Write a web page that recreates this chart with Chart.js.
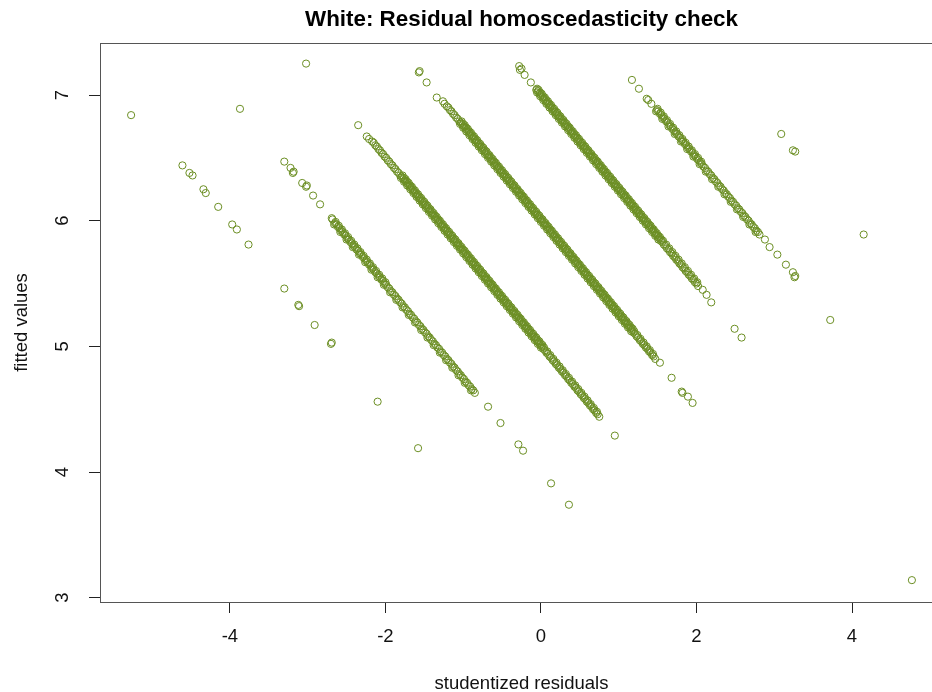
<!DOCTYPE html>
<html>
<head>
<meta charset="utf-8">
<script src="https://cdn.jsdelivr.net/npm/chart.js@4.4.1/dist/chart.umd.min.js"></script>
<style>
  html, body { margin: 0; padding: 0; background: #fff; overflow: hidden; }
  #wrap { width: 960px; height: 692px; }
</style>
</head>
<body>
<div id="wrap"><canvas id="c" width="960" height="692"></canvas></div>
<script>
// Axis ticks
const xTicks = [-4, -2, 0, 2, 4];
const yTicks = [3, 4, 5, 6, 7];

// [studentized residual, fitted value] pairs, grouped by stripe
const stripe1 = [
  [-2.65,5.98],[-2.61,5.95],[-2.57,5.92],[-2.53,5.89],[-2.49,5.86],[-2.45,5.83],[-2.41,5.80],[-2.37,5.77],[-2.33,5.74],[-2.29,5.71],
  [-2.25,5.68],[-2.21,5.65],[-2.17,5.62],[-2.13,5.59],[-2.09,5.56],[-2.05,5.53],[-2.01,5.50],[-1.97,5.47],[-1.93,5.44],[-1.89,5.41],
  [-1.85,5.38],[-1.81,5.35],[-1.77,5.32],[-1.73,5.29],[-1.69,5.26],[-1.65,5.23],[-1.61,5.20],[-1.57,5.17],[-1.53,5.14],[-1.49,5.11],
  [-1.45,5.08],[-1.41,5.05],[-1.37,5.02],[-1.33,4.99],[-1.29,4.96],[-1.25,4.93],[-1.21,4.90],[-1.17,4.87],[-1.13,4.84],[-1.09,4.81],
  [-1.05,4.78],[-1.01,4.75],[-0.97,4.72],[-0.93,4.69],[-0.89,4.66],[-0.85,4.63],
  [-2.63,5.97],[-2.59,5.94],[-2.55,5.91],[-2.51,5.88],[-2.47,5.85],[-2.43,5.82],[-2.39,5.79],[-2.35,5.76],[-2.31,5.73],[-2.27,5.70],
  [-2.23,5.67],[-2.19,5.64],[-2.15,5.61],[-2.11,5.58],[-2.07,5.55],[-2.03,5.52],[-1.99,5.49],[-1.95,5.46],[-1.91,5.43],[-1.87,5.40],
  [-1.83,5.37],[-1.79,5.34],[-1.75,5.31],[-1.71,5.28],[-1.67,5.25],[-1.63,5.22],[-1.59,5.19],[-1.55,5.16],[-1.51,5.13],[-1.47,5.10],
  [-1.43,5.07],[-1.39,5.04],[-1.35,5.01],[-1.31,4.98],[-1.27,4.95],[-1.23,4.92],[-1.19,4.89],[-1.15,4.86],[-1.11,4.83],[-1.07,4.80],
  [-1.03,4.77],[-0.99,4.74],[-0.95,4.71],[-0.91,4.68],[-0.87,4.65]
];
const stripe1b = [
  [-2.64,5.99],[-2.60,5.96],[-2.56,5.93],[-2.52,5.90],[-2.48,5.87],[-2.44,5.84],[-2.40,5.81],[-2.36,5.78],[-2.32,5.75],[-2.28,5.72],
  [-2.24,5.69],[-2.20,5.66],[-2.16,5.63],[-2.12,5.60],[-2.08,5.57],[-2.04,5.54],[-2.00,5.51]
];
const stripe1c = [
  [-2.66,5.97],[-2.58,5.91],[-2.50,5.85],[-2.42,5.79],[-2.34,5.73],[-2.26,5.67],[-2.18,5.61],[-2.10,5.55],[-2.02,5.49],[-1.94,5.43],
  [-1.86,5.37],[-1.78,5.31],[-1.70,5.25],[-1.62,5.19],[-1.54,5.13],[-1.46,5.07],[-1.38,5.01],[-1.30,4.95],[-1.22,4.89],[-1.14,4.83],
  [-1.06,4.77],[-0.98,4.71],[-0.90,4.65]
];

const stripe2 = [
  [-2.17,6.63],[-2.15,6.62],[-2.13,6.60],[-2.11,6.59],[-2.09,6.57],[-2.07,6.56],[-2.05,6.54],[-2.03,6.53],[-2.01,6.51],[-1.99,6.50],
  [-1.97,6.48],[-1.95,6.47],[-1.93,6.45],[-1.91,6.44],[-1.89,6.42],[-1.87,6.41],[-1.85,6.39],[-1.83,6.38],[-1.81,6.36],
  [-1.79,6.35],[-1.77,6.33],[-1.75,6.32],[-1.73,6.30],[-1.71,6.29],[-1.69,6.27],[-1.67,6.26],[-1.65,6.24],[-1.63,6.23],[-1.61,6.21],
  [-1.59,6.20],[-1.57,6.18],[-1.55,6.17],[-1.53,6.15],[-1.51,6.14],[-1.49,6.12],[-1.47,6.11],[-1.45,6.09],[-1.43,6.08],[-1.41,6.06],
  [-1.39,6.05],[-1.37,6.03],[-1.35,6.02],[-1.33,6.00],[-1.31,5.99],[-1.29,5.97],[-1.27,5.96],[-1.25,5.94],[-1.23,5.93],[-1.21,5.91],
  [-1.19,5.90],[-1.17,5.88],[-1.15,5.87],[-1.13,5.85],[-1.11,5.84],[-1.09,5.82],[-1.07,5.81],[-1.05,5.79],[-1.03,5.78],[-1.01,5.76],
  [-0.99,5.75],[-0.97,5.73],[-0.95,5.72],[-0.93,5.70],[-0.91,5.69],[-0.89,5.67],[-0.87,5.66],[-0.85,5.64],[-0.83,5.63],[-0.81,5.61],
  [-0.79,5.60],[-0.77,5.58],[-0.75,5.57],[-0.73,5.55],[-0.71,5.54],[-0.69,5.52],[-0.67,5.51],[-0.65,5.49],[-0.63,5.48],[-0.61,5.46],
  [-0.59,5.45],[-0.57,5.43],[-0.55,5.42],[-0.53,5.40],[-0.51,5.39],[-0.49,5.37],[-0.47,5.36],[-0.45,5.34],[-0.43,5.33],[-0.41,5.31],
  [-0.39,5.30],[-0.37,5.28],[-0.35,5.27],[-0.33,5.25],[-0.31,5.24],[-0.29,5.22],[-0.27,5.21],[-0.25,5.19],[-0.23,5.18],[-0.21,5.16],
  [-0.19,5.15],[-0.17,5.13],[-0.15,5.12],[-0.13,5.10],[-0.11,5.09],[-0.09,5.07],[-0.07,5.06],[-0.05,5.04],[-0.03,5.03],[-0.01,5.01],
  [0.01,5.00],
  [0.03,4.98],[0.05,4.97],[0.07,4.95],[0.09,4.94],[0.11,4.92],[0.13,4.91],[0.15,4.89],[0.17,4.88],[0.19,4.86],[0.21,4.85],
  [0.23,4.83],[0.25,4.82],[0.27,4.80],[0.29,4.79],[0.31,4.77],[0.33,4.76],[0.35,4.74],[0.37,4.73],[0.39,4.71],[0.41,4.70],
  [0.43,4.68],[0.45,4.67],[0.47,4.65],[0.49,4.64],[0.51,4.62],[0.53,4.61],[0.55,4.59],[0.57,4.58],[0.59,4.56],[0.61,4.55],
  [0.63,4.53],[0.65,4.52],[0.67,4.50],[0.69,4.49],[0.71,4.47],[0.73,4.46],[0.75,4.44]
];
const stripe2b = [
  [-1.78,6.36],[-1.76,6.34],[-1.74,6.33],[-1.72,6.31],[-1.70,6.30],[-1.68,6.28],[-1.66,6.27],[-1.64,6.25],[-1.62,6.24],[-1.60,6.22],
  [-1.58,6.21],[-1.56,6.19],[-1.54,6.18],[-1.52,6.16],[-1.50,6.15],[-1.48,6.13],[-1.46,6.12],[-1.44,6.10],[-1.42,6.09],[-1.40,6.07],
  [-1.38,6.06],[-1.36,6.04],[-1.34,6.03],[-1.32,6.01],[-1.30,6.00],[-1.28,5.98],[-1.26,5.97],[-1.24,5.95],[-1.22,5.94],[-1.20,5.92],
  [-1.18,5.91],[-1.16,5.89],[-1.14,5.88],[-1.12,5.86],[-1.10,5.85],[-1.08,5.83],[-1.06,5.82],[-1.04,5.80],[-1.02,5.79],[-1.00,5.77],
  [-0.98,5.76],[-0.96,5.74],[-0.94,5.73],[-0.92,5.71],[-0.90,5.70],[-0.88,5.68],[-0.86,5.67],[-0.84,5.65],[-0.82,5.64],[-0.80,5.62],
  [-0.78,5.61],[-0.76,5.59],[-0.74,5.58],[-0.72,5.56],[-0.70,5.55],[-0.68,5.53],[-0.66,5.52],[-0.64,5.50],[-0.62,5.49],[-0.60,5.47],
  [-0.58,5.46],[-0.56,5.44],[-0.54,5.43],[-0.52,5.41],[-0.50,5.40],[-0.48,5.38],[-0.46,5.37],[-0.44,5.35],[-0.42,5.34],[-0.40,5.32],
  [-0.38,5.31],[-0.36,5.29],[-0.34,5.28],[-0.32,5.26],[-0.30,5.25],[-0.28,5.23],[-0.26,5.22],[-0.24,5.20],[-0.22,5.19],[-0.20,5.17],
  [-0.18,5.16],[-0.16,5.14],[-0.14,5.13],[-0.12,5.11],[-0.10,5.10],[-0.08,5.08],[-0.06,5.07],[-0.04,5.05],[-0.02,5.04],[0.00,5.02],
  [0.02,5.01]
];
const stripe2c = [
  [-1.80,6.34],[-1.76,6.31],[-1.72,6.28],[-1.68,6.25],[-1.64,6.22],[-1.60,6.19],[-1.56,6.16],[-1.52,6.13],[-1.48,6.10],[-1.44,6.07],
  [-1.40,6.04],[-1.36,6.01],[-1.32,5.98],[-1.28,5.95],[-1.24,5.92],[-1.20,5.89],[-1.16,5.86],[-1.12,5.83],[-1.08,5.80],[-1.04,5.77],
  [-1.00,5.74],[-0.96,5.71],[-0.92,5.68],[-0.88,5.65],[-0.84,5.62],[-0.80,5.59],[-0.76,5.56],[-0.72,5.53],[-0.68,5.50],[-0.64,5.47],
  [-0.60,5.44],[-0.56,5.41],[-0.52,5.38],[-0.48,5.35],[-0.44,5.32],[-0.40,5.29],[-0.36,5.26],[-0.32,5.23],[-0.28,5.20],[-0.24,5.17],
  [-0.20,5.14],[-0.16,5.11],[-0.12,5.08],[-0.08,5.05],[-0.04,5.02],[0.00,4.99]
];
const stripe2d = [
  [0.04,4.99],[0.08,4.96],[0.12,4.93],[0.16,4.90],[0.20,4.87],[0.24,4.84],[0.28,4.81],[0.32,4.78],[0.36,4.75],[0.40,4.72],
  [0.44,4.69],[0.48,4.66],[0.52,4.63],[0.56,4.60],[0.60,4.57],[0.64,4.54],[0.68,4.51],[0.72,4.48]
];

const stripe3 = [
  [-1.21,6.91],[-1.19,6.90],[-1.17,6.88],[-1.15,6.87],[-1.13,6.85],[-1.11,6.84],[-1.09,6.82],[-1.07,6.81],[-1.05,6.79],
  [-1.03,6.78],[-1.01,6.76],[-0.99,6.75],[-0.97,6.73],[-0.95,6.72],[-0.93,6.70],[-0.91,6.69],[-0.89,6.67],[-0.87,6.66],[-0.85,6.64],
  [-0.83,6.63],[-0.81,6.61],[-0.79,6.60],[-0.77,6.58],[-0.75,6.57],[-0.73,6.55],[-0.71,6.54],[-0.69,6.52],[-0.67,6.51],[-0.65,6.49],
  [-0.63,6.48],[-0.61,6.46],[-0.59,6.45],[-0.57,6.43],[-0.55,6.42],[-0.53,6.40],[-0.51,6.39],[-0.49,6.37],[-0.47,6.36],[-0.45,6.34],
  [-0.43,6.33],[-0.41,6.31],[-0.39,6.30],[-0.37,6.28],[-0.35,6.27],[-0.33,6.25],[-0.31,6.24],[-0.29,6.22],[-0.27,6.21],[-0.25,6.19],
  [-0.23,6.18],[-0.21,6.16],[-0.19,6.15],[-0.17,6.13],[-0.15,6.12],[-0.13,6.10],[-0.11,6.09],[-0.09,6.07],[-0.07,6.06],[-0.05,6.04],
  [-0.03,6.03],[-0.01,6.01],[0.01,6.00],[0.03,5.98],[0.05,5.97],[0.07,5.95],[0.09,5.94],[0.11,5.92],[0.13,5.91],[0.15,5.89],
  [0.17,5.88],[0.19,5.86],[0.21,5.85],[0.23,5.83],[0.25,5.82],[0.27,5.80],[0.29,5.79],[0.31,5.77],[0.33,5.76],[0.35,5.74],
  [0.37,5.73],[0.39,5.71],[0.41,5.70],[0.43,5.68],[0.45,5.67],[0.47,5.65],[0.49,5.64],[0.51,5.62],[0.53,5.61],[0.55,5.59],
  [0.57,5.58],[0.59,5.56],[0.61,5.55],[0.63,5.53],[0.65,5.52],[0.67,5.50],[0.69,5.49],[0.71,5.47],[0.73,5.46],[0.75,5.44],
  [0.77,5.43],[0.79,5.41],[0.81,5.40],[0.83,5.38],[0.85,5.37],[0.87,5.35],[0.89,5.34],[0.91,5.32],[0.93,5.31],[0.95,5.29],
  [0.97,5.28],[0.99,5.26],[1.01,5.25],[1.03,5.23],[1.05,5.22],[1.07,5.20],[1.09,5.19],[1.11,5.17],[1.13,5.16],[1.15,5.14],
  [1.17,5.13],
  [1.19,5.11],[1.21,5.10],[1.23,5.08],[1.25,5.07],[1.27,5.05],[1.29,5.04],[1.31,5.02],[1.33,5.01],[1.35,4.99],[1.37,4.98],
  [1.39,4.96],[1.41,4.95],[1.43,4.93],[1.45,4.92],[1.47,4.90]
];
const stripe3b = [
  [-1.02,6.79],[-1.00,6.77],[-0.98,6.76],[-0.96,6.74],[-0.94,6.73],[-0.92,6.71],[-0.90,6.70],[-0.88,6.68],[-0.86,6.67],[-0.84,6.65],
  [-0.82,6.64],[-0.80,6.62],[-0.78,6.61],[-0.76,6.59],[-0.74,6.58],[-0.72,6.56],[-0.70,6.55],[-0.68,6.53],[-0.66,6.52],[-0.64,6.50],
  [-0.62,6.49],[-0.60,6.47],[-0.58,6.46],[-0.56,6.44],[-0.54,6.43],[-0.52,6.41],[-0.50,6.40],[-0.48,6.38],[-0.46,6.37],[-0.44,6.35],
  [-0.42,6.34],[-0.40,6.32],[-0.38,6.31],[-0.36,6.29],[-0.34,6.28],[-0.32,6.26],[-0.30,6.25],[-0.28,6.23],[-0.26,6.22],[-0.24,6.20],
  [-0.22,6.19],[-0.20,6.17],[-0.18,6.16],[-0.16,6.14],[-0.14,6.13],[-0.12,6.11],[-0.10,6.10],[-0.08,6.08],[-0.06,6.07],[-0.04,6.05],
  [-0.02,6.04],[0.00,6.02],[0.02,6.01],[0.04,5.99],[0.06,5.98],[0.08,5.96],[0.10,5.95],[0.12,5.93],[0.14,5.92],[0.16,5.90],
  [0.18,5.89],[0.20,5.87],[0.22,5.86],[0.24,5.84],[0.26,5.83],[0.28,5.81],[0.30,5.80],[0.32,5.78],[0.34,5.77],[0.36,5.75],
  [0.38,5.74],[0.40,5.72],[0.42,5.71],[0.44,5.69],[0.46,5.68],[0.48,5.66],[0.50,5.65],[0.52,5.63],[0.54,5.62],[0.56,5.60],
  [0.58,5.59],[0.60,5.57],[0.62,5.56],[0.64,5.54],[0.66,5.53],[0.68,5.51],[0.70,5.50],[0.72,5.48],[0.74,5.47],[0.76,5.45],
  [0.78,5.44],[0.80,5.42],[0.82,5.41],[0.84,5.39],[0.86,5.38],[0.88,5.36],[0.90,5.35],[0.92,5.33],[0.94,5.32],[0.96,5.30],
  [0.98,5.29],[1.00,5.27],[1.02,5.26],[1.04,5.24],[1.06,5.23],[1.08,5.21],[1.10,5.20],[1.12,5.18],[1.14,5.17],[1.16,5.15],
  [1.18,5.14]
];
const stripe3c = [
  [-1.04,6.77],[-1.00,6.74],[-0.96,6.71],[-0.92,6.68],[-0.88,6.65],[-0.84,6.62],[-0.80,6.59],[-0.76,6.56],[-0.72,6.53],[-0.68,6.50],
  [-0.64,6.47],[-0.60,6.44],[-0.56,6.41],[-0.52,6.38],[-0.48,6.35],[-0.44,6.32],[-0.40,6.29],[-0.36,6.26],[-0.32,6.23],[-0.28,6.20],
  [-0.24,6.17],[-0.20,6.14],[-0.16,6.11],[-0.12,6.08],[-0.08,6.05],[-0.04,6.02],[0.00,5.99],[0.04,5.96],[0.08,5.93],[0.12,5.90],
  [0.16,5.87],[0.20,5.84],[0.24,5.81],[0.28,5.78],[0.32,5.75],[0.36,5.72],[0.40,5.69],[0.44,5.66],[0.48,5.63],[0.52,5.60],
  [0.56,5.57],[0.60,5.54],[0.64,5.51],[0.68,5.48],[0.72,5.45],[0.76,5.42],[0.80,5.39],[0.84,5.36],[0.88,5.33],[0.92,5.30],
  [0.96,5.27],[1.00,5.24],[1.04,5.21],[1.08,5.18],[1.12,5.15],[1.16,5.12]
];
const stripe3d = [
  [1.20,5.12],[1.24,5.09],[1.28,5.06],[1.32,5.03],[1.36,5.00],[1.40,4.97],[1.44,4.94]
];

const stripe4 = [
  [-0.06,7.04],[-0.04,7.03],[-0.02,7.01],[0.00,7.00],[0.02,6.98],[0.04,6.97],[0.06,6.95],[0.08,6.94],[0.10,6.92],[0.12,6.91],
  [0.14,6.89],[0.16,6.88],[0.18,6.86],[0.20,6.85],[0.22,6.83],[0.24,6.82],[0.26,6.80],[0.28,6.79],[0.30,6.77],[0.32,6.76],
  [0.34,6.74],[0.36,6.73],[0.38,6.71],[0.40,6.70],[0.42,6.68],[0.44,6.67],[0.46,6.65],[0.48,6.64],[0.50,6.62],[0.52,6.61],
  [0.54,6.59],[0.56,6.58],[0.58,6.56],[0.60,6.55],[0.62,6.53],[0.64,6.52],[0.66,6.50],[0.68,6.49],[0.70,6.47],[0.72,6.46],
  [0.74,6.44],[0.76,6.43],[0.78,6.41],[0.80,6.40],[0.82,6.38],[0.84,6.37],[0.86,6.35],[0.88,6.34],[0.90,6.32],[0.92,6.31],
  [0.94,6.29],[0.96,6.28],[0.98,6.26],[1.00,6.25],[1.02,6.23],[1.04,6.22],[1.06,6.20],[1.08,6.19],[1.10,6.17],[1.12,6.16],
  [1.14,6.14],[1.16,6.13],[1.18,6.11],[1.20,6.10],[1.22,6.08],[1.24,6.07],[1.26,6.05],[1.28,6.04],[1.30,6.02],[1.32,6.01],
  [1.34,5.99],[1.36,5.98],[1.38,5.96],[1.40,5.95],[1.42,5.93],[1.44,5.92],[1.46,5.90],[1.48,5.89],[1.50,5.87],[1.52,5.86],
  [1.54,5.84],
  [1.56,5.83],[1.58,5.81],[1.60,5.80],[1.62,5.78],[1.64,5.77],[1.66,5.75],[1.68,5.74],[1.70,5.72],[1.72,5.71],[1.74,5.69],
  [1.76,5.68],[1.78,5.66],[1.80,5.65],[1.82,5.63],[1.84,5.62],[1.86,5.60],[1.88,5.59],[1.90,5.57],[1.92,5.56],[1.94,5.54],
  [1.96,5.53],[1.98,5.51],[2.00,5.50],[2.02,5.48]
];
const stripe4b = [
  [-0.05,7.05],[-0.03,7.04],[-0.01,7.02],[0.01,7.01],[0.03,6.99],[0.05,6.98],[0.07,6.96],[0.09,6.95],[0.11,6.93],[0.13,6.92],
  [0.15,6.90],[0.17,6.89],[0.19,6.87],[0.21,6.86],[0.23,6.84],[0.25,6.83],[0.27,6.81],[0.29,6.80],[0.31,6.78],[0.33,6.77],
  [0.35,6.75],[0.37,6.74],[0.39,6.72],[0.41,6.71],[0.43,6.69],[0.45,6.68],[0.47,6.66],[0.49,6.65],[0.51,6.63],[0.53,6.62],
  [0.55,6.60],[0.57,6.59],[0.59,6.57],[0.61,6.56],[0.63,6.54],[0.65,6.53],[0.67,6.51],[0.69,6.50],[0.71,6.48],[0.73,6.47],
  [0.75,6.45],[0.77,6.44],[0.79,6.42],[0.81,6.41],[0.83,6.39],[0.85,6.38],[0.87,6.36],[0.89,6.35],[0.91,6.33],[0.93,6.32],
  [0.95,6.30],[0.97,6.29],[0.99,6.27],[1.01,6.26],[1.03,6.24],[1.05,6.23],[1.07,6.21],[1.09,6.20],[1.11,6.18],[1.13,6.17],
  [1.15,6.15],[1.17,6.14],[1.19,6.12],[1.21,6.11],[1.23,6.09],[1.25,6.08],[1.27,6.06],[1.29,6.05],[1.31,6.03],[1.33,6.02],
  [1.35,6.00],[1.37,5.99],[1.39,5.97],[1.41,5.96],[1.43,5.94],[1.45,5.93],[1.47,5.91],[1.49,5.90],[1.51,5.88],[1.53,5.87],
  [1.55,5.85]
];
const stripe4c = [
  [-0.05,7.02],[-0.01,6.99],[0.03,6.96],[0.07,6.93],[0.11,6.90],[0.15,6.87],[0.19,6.84],[0.23,6.81],[0.27,6.78],[0.31,6.75],
  [0.35,6.72],[0.39,6.69],[0.43,6.66],[0.47,6.63],[0.51,6.60],[0.55,6.57],[0.59,6.54],[0.63,6.51],[0.67,6.48],[0.71,6.45],
  [0.75,6.42],[0.79,6.39],[0.83,6.36],[0.87,6.33],[0.91,6.30],[0.95,6.27],[0.99,6.24],[1.03,6.21],[1.07,6.18],[1.11,6.15],
  [1.15,6.12],[1.19,6.09],[1.23,6.06],[1.27,6.03],[1.31,6.00],[1.35,5.97],[1.39,5.94],[1.43,5.91],[1.47,5.88],[1.51,5.85]
];
const stripe4d = [
  [1.57,5.84],[1.61,5.81],[1.65,5.78],[1.69,5.75],[1.73,5.72],[1.77,5.69],[1.81,5.66],[1.85,5.63],[1.89,5.60],[1.93,5.57],
  [1.97,5.54],[2.01,5.51]
];

const stripe5 = [
  [1.49,6.88],[1.53,6.85],[1.57,6.82],[1.61,6.79],[1.65,6.76],[1.69,6.73],[1.73,6.70],[1.77,6.67],[1.81,6.64],[1.85,6.61],
  [1.89,6.58],[1.93,6.55],[1.97,6.52],[2.01,6.49],[2.05,6.46],[2.09,6.43],[2.13,6.40],[2.17,6.37],[2.21,6.34],[2.25,6.31],
  [2.29,6.28],[2.33,6.25],[2.37,6.22],[2.41,6.19],[2.45,6.16],[2.49,6.13],[2.53,6.10],[2.57,6.07],[2.61,6.04],[2.65,6.01],
  [2.69,5.98],[2.73,5.95],[2.77,5.92],[2.81,5.89],
  [1.51,6.87],[1.55,6.84],[1.59,6.81],[1.63,6.78],[1.67,6.75],[1.71,6.72],[1.75,6.69],[1.79,6.66],[1.83,6.63],[1.87,6.60],
  [1.91,6.57],[1.95,6.54],[1.99,6.51],[2.03,6.48],[2.07,6.45],[2.11,6.42],[2.15,6.39],[2.19,6.36],[2.23,6.33],[2.27,6.30],
  [2.31,6.27],[2.35,6.24],[2.39,6.21],[2.43,6.18],[2.47,6.15],[2.51,6.12],[2.55,6.09],[2.59,6.06],[2.63,6.03],[2.67,6.00],
  [2.71,5.97],[2.75,5.94],[2.79,5.91]
];
const stripe5b = [
  [1.50,6.89],[1.54,6.86],[1.58,6.83],[1.62,6.80],[1.66,6.77],[1.70,6.74],[1.74,6.71],[1.78,6.68],[1.82,6.65],[1.86,6.62],
  [1.90,6.59],[1.94,6.56],[1.98,6.53],[2.02,6.50],[2.06,6.47]
];
const stripe5c = [
  [1.48,6.87],[1.56,6.81],[1.64,6.75],[1.72,6.69],[1.80,6.63],[1.88,6.57],[1.96,6.51],[2.04,6.45],[2.12,6.39],[2.20,6.33],
  [2.28,6.27],[2.36,6.21],[2.44,6.15],[2.52,6.09],[2.60,6.03],[2.68,5.97],[2.76,5.91]
];

// Isolated observations away from the dense stripes
const scattered = [
  [-5.27,6.84],[-4.61,6.44],[-4.52,6.38],[-4.48,6.36],[-4.34,6.25],[-4.31,6.22],[-4.15,6.11],[-3.97,5.97],[-3.91,5.93],[-3.76,5.81],
  [-3.30,5.46],[-3.12,5.33],[-3.11,5.32],[-2.91,5.17],[-2.70,5.02],[-2.69,5.03],[-2.10,4.56],[-1.58,4.19],
  [-3.87,6.89],[-3.02,7.25],
  [-3.30,6.47],[-3.22,6.42],[-3.19,6.38],[-3.18,6.39],[-3.07,6.30],[-3.02,6.27],[-3.01,6.28],[-2.93,6.20],[-2.84,6.13],[-2.69,6.02],[-2.68,6.01],
  [-0.68,4.52],[-0.52,4.39],[-0.29,4.22],[-0.23,4.17],[0.13,3.91],[0.36,3.74],
  [-2.35,6.76],[-2.24,6.67],[-2.21,6.65],
  [0.95,4.29],
  [-1.57,7.18],[-1.56,7.19],[-1.47,7.10],[-1.34,6.98],[-1.26,6.95],[-1.24,6.93],
  [1.53,4.87],[1.68,4.75],[1.81,4.64],[1.82,4.63],[1.89,4.60],[1.95,4.55],
  [-0.28,7.23],[-0.27,7.20],[-0.25,7.21],[-0.21,7.16],[-0.13,7.10],
  [2.08,5.45],[2.13,5.41],[2.19,5.35],[2.49,5.14],[2.58,5.07],
  [1.17,7.12],[1.26,7.05],[1.36,6.97],[1.38,6.96],[1.42,6.93],
  [2.88,5.85],[2.94,5.79],[3.04,5.73],[3.15,5.65],[3.24,5.59],[3.26,5.55],[3.27,5.56],[3.72,5.21],
  [3.09,6.69],[3.24,6.56],[3.27,6.55],[4.15,5.89],
  [4.77,3.14]
];

const FONT = "'Liberation Sans', Arial, Helvetica, sans-serif";
const POINT_COLOR = '#6B8E23';

const points = [].concat(
  stripe1, stripe1b, stripe1c,
  stripe2, stripe2b, stripe2c, stripe2d,
  stripe3, stripe3b, stripe3c, stripe3d,
  stripe4, stripe4b, stripe4c, stripe4d,
  stripe5, stripe5b, stripe5c,
  scattered
).map(([x, y]) => ({ x, y }));

// Frame around the plotting region
const frame = {
  id: 'frame',
  afterDatasetsDraw(chart) {
    const { ctx, chartArea: a } = chart;
    ctx.save();
    ctx.strokeStyle = '#555';
    ctx.lineWidth = 1;
    ctx.strokeRect(Math.round(a.left) + 0.5, Math.round(a.top) + 0.5,
                   Math.round(a.right - a.left), Math.round(a.bottom - a.top));
    ctx.restore();
  }
};

new Chart(document.getElementById('c'), {
  type: 'scatter',
  data: {
    datasets: [{
      data: points,
      pointStyle: 'circle',
      pointRadius: 3.6,
      pointHoverRadius: 3.6,
      borderWidth: 1,
      borderColor: POINT_COLOR,
      backgroundColor: 'rgba(0,0,0,0)'
    }]
  },
  options: {
    responsive: false,
    animation: false,
    events: [],
    layout: { padding: { left: 0, right: 17, top: 0, bottom: 0 } },
    plugins: {
      legend: { display: false },
      tooltip: { enabled: false },
      title: {
        display: true,
        fullSize: false,
        text: 'White: Residual homoscedasticity check',
        color: '#000',
        font: { family: FONT, size: 22.4, weight: 'bold', lineHeight: 1.2 },
        padding: { top: 6.5, bottom: 9.6 }
      }
    },
    scales: {
      x: {
        type: 'linear',
        min: -5.67,
        max: 5.17,
        afterBuildTicks(s) { s.ticks = xTicks.map(v => ({ value: v })); },
        afterFit(s) { s.height = 90; },
        grid: { drawOnChartArea: false, drawTicks: true, tickLength: 11, color: '#222', lineWidth: 1 },
        border: { display: false },
        ticks: {
          font: { family: FONT, size: 18.5 },
          color: '#111',
          padding: 13,
          maxRotation: 0,
          autoSkip: false,
          callback: v => String(v)
        },
        title: {
          display: true,
          text: 'studentized residuals',
          color: '#111',
          font: { family: FONT, size: 18.5, lineHeight: 0.8 },
          padding: { top: 0, bottom: 0.6 }
        }
      },
      y: {
        type: 'linear',
        min: 2.966,
        max: 7.414,
        afterBuildTicks(s) { s.ticks = yTicks.map(v => ({ value: v })); },
        afterFit(s) { s.width = 100; },
        grid: { drawOnChartArea: false, drawTicks: true, tickLength: 11, color: '#222', lineWidth: 1 },
        border: { display: false },
        ticks: {
          font: { family: FONT, size: 18.5 },
          color: '#111',
          padding: 21,
          minRotation: 90,
          maxRotation: 90,
          crossAlign: 'center',
          autoSkip: false,
          callback: v => String(v)
        },
        title: {
          display: true,
          text: 'fitted values',
          color: '#111',
          font: { family: FONT, size: 18.5, lineHeight: 1.2 },
          padding: { top: 11, bottom: 0 }
        }
      }
    }
  },
  plugins: [frame]
});
</script>
</body>
</html>
